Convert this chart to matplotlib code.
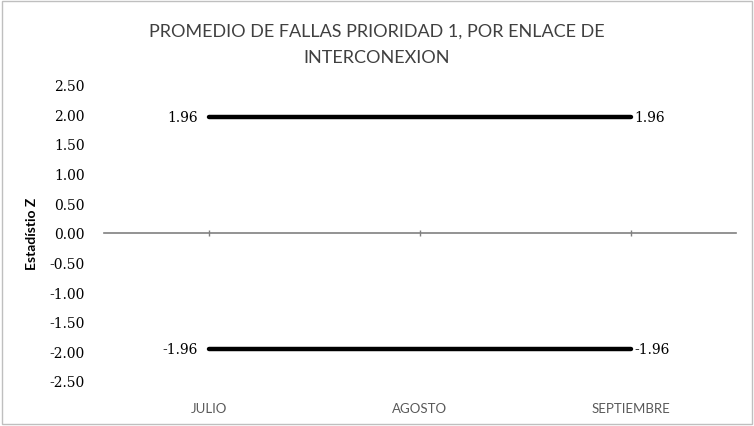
import matplotlib
matplotlib.use("Agg")
import matplotlib.pyplot as plt
from matplotlib.patches import Rectangle

months = ["JULIO", "AGOSTO", "SEPTIEMBRE"]
upper = [1.96, 1.96, 1.96]
lower = [-1.96, -1.96, -1.96]
yticks = [2.5, 2.0, 1.5, 1.0, 0.5, 0.0, -0.5, -1.0, -1.5, -2.0, -2.5]

fig = plt.figure(figsize=(7.54, 4.27), dpi=100)
fig.patch.set_facecolor("white")
fig.add_artist(Rectangle((0.002, 0.004), 0.995, 0.992, transform=fig.transFigure,
                         fill=False, edgecolor="#bfbfbf", linewidth=1.0))

ax = fig.add_axes([0.138, 0.1056, 0.838, 0.694])
x = list(range(len(months)))
ax.plot(x, upper, color="black", linewidth=3.2, solid_capstyle="round", zorder=3)
ax.plot(x, lower, color="black", linewidth=3.2, solid_capstyle="round", zorder=3)

ax.set_xlim(-0.5, len(months) - 0.5)
ax.set_ylim(-2.5, 2.5)

serif = ["DejaVu Serif"]
sans = ["Lato", "Open Sans", "DejaVu Sans"]

for series in (upper, lower):
    ax.annotate(f"{series[0]:.2f}", (x[0], series[0]), xytext=(-8, 0),
                textcoords="offset points", ha="right", va="center",
                fontsize=10, family=serif, color="black")
    ax.annotate(f"{series[-1]:.2f}", (x[-1], series[-1]), xytext=(3, 0),
                textcoords="offset points", ha="left", va="center",
                fontsize=10, family=serif, color="black")

for s in ["top", "right", "left"]:
    ax.spines[s].set_visible(False)
ax.spines["bottom"].set_position(("data", 0))
ax.spines["bottom"].set_color("#808080")
ax.spines["bottom"].set_linewidth(1.2)
ax.set_xticks(x)
ax.set_xticklabels([])
ax.tick_params(axis="x", direction="inout", length=4, color="#808080", width=1)

ax.set_yticks(yticks)
ax.set_yticklabels([f"{v:.2f}" for v in yticks], family=serif, fontsize=10)
ax.tick_params(axis="y", length=0, pad=14)

sec = ax.secondary_xaxis(0)
sec.set_xticks(x)
sec.set_xticklabels(months, family=sans, fontsize=9.5, color="#595959")
sec.tick_params(length=0, pad=15)
sec.spines["bottom"].set_visible(False)

ax.set_ylabel("Estadístio Z", family=sans, fontsize=10, fontweight="bold", labelpad=8)

fig.text(0.5, 0.925, "PROMEDIO DE FALLAS PRIORIDAD 1, POR ENLACE DE", ha="center",
         va="center", family=sans, fontsize=13, color="#404040")
fig.text(0.5, 0.865, "INTERCONEXION", ha="center", va="center", family=sans,
         fontsize=13, color="#404040")

fig.savefig("out.png", dpi=100)
